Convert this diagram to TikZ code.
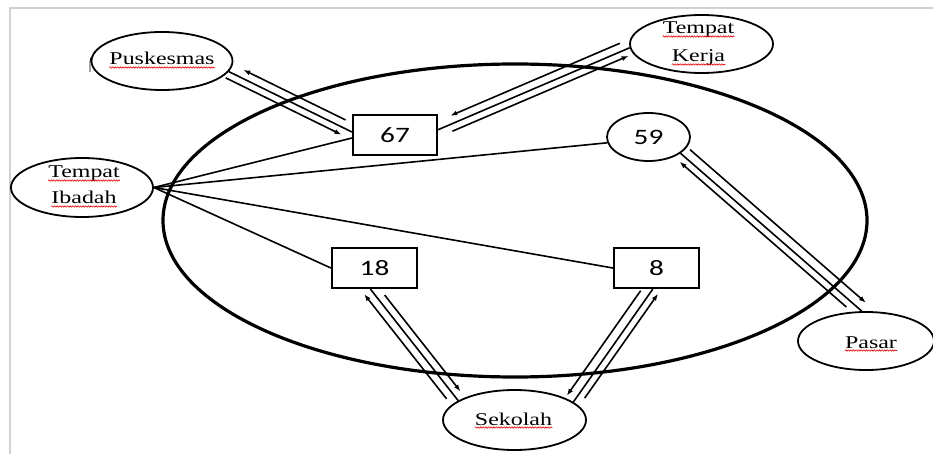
\documentclass[tikz,border=0pt]{standalone}
\usepackage{fontspec}
\setmainfont{Liberation Serif}
\newfontfamily\numfont{Carlito}
\usepackage{graphicx}
\usetikzlibrary{shapes.geometric,arrows.meta,calc,decorations.pathmorphing}
\newcommand\hstretch[1]{\scalebox{1.33}[1]{#1}}
% #1 A, #2 B, #3 offset, #4 angle, #5 from fraction, #6 to fraction
\newcommand\offarrow[6]{\draw[conn,arr] ($(#1)!#5!(#2)+(#1)!#3!#4:(#2)-(#1)$) -- ($(#1)!#6!(#2)+(#1)!#3!#4:(#2)-(#1)$);}
\tikzset{
 spot/.style={ellipse,draw,line width=1.8pt,inner sep=0pt,fill=white},
 numbox/.style={rectangle,draw,line width=2.2pt,inner sep=0pt,minimum width=84pt,minimum height=40pt,font=\numfont\fontsize{22}{26}\selectfont,fill=white},
 txt/.style={inner sep=0pt,anchor=base,font=\fontsize{18}{22}\selectfont},
 conn/.style={line width=1.6pt},
 arr/.style={-{Latex[length=7pt,width=5pt]}},
 squig/.style={draw=red!90!black,line width=0.6pt,decorate,decoration={snake,amplitude=0.7pt,segment length=2.6pt}},
 bigring/.style={line width=3.2pt},
 pageframe/.style={draw=black!18,line width=1.5pt}
}
\begin{document}
\begin{tikzpicture}[x=1pt,y=-1pt]
\useasboundingbox (0,0) rectangle (933,454);
\draw[pageframe] (10,454) -- (10,8) -- (933,8);
% big ring
\draw[bigring] (515,220.5) ellipse [x radius=352, y radius=156.5];
% places
\node[spot,minimum width=141pt,minimum height=58pt] (pusk) at (162,61) {};
\node[spot,minimum width=142pt,minimum height=59pt] (ib) at (82,187.5) {};
\node[spot,minimum width=143pt,minimum height=58pt] (kerja) at (701.5,44) {};
\node[spot,minimum width=136pt,minimum height=58pt] (pasar) at (866,341) {};
\node[spot,minimum width=143pt,minimum height=60pt] (sek) at (514.5,420) {};
% numbers
\node[numbox] (n67) at (395,135) {\hstretch{67}};
\node[spot,minimum width=83pt,minimum height=48pt,font=\numfont\fontsize{22}{26}\selectfont] (n59) at (648.5,137) {\hstretch{59}};
\node[numbox,minimum width=85pt] (n18) at (374.5,268) {\hstretch{18}};
\node[numbox,minimum width=85pt] (n8) at (656.5,268) {\hstretch{8}};
% labels
\node[txt] (tpusk) at ([yshift=-4pt]pusk.center) {\hstretch{Puskesmas}};
\node[txt] (tib1) at ([xshift=2pt,yshift=9.5pt]ib.center) {\hstretch{Tempat}};
\node[txt] (tib2) at ([xshift=2pt,yshift=-16.5pt]ib.center) {\hstretch{Ibadah}};
\node[txt] (tk1) at ([xshift=-3pt,yshift=10pt]kerja.center) {\hstretch{Tempat}};
\node[txt] (tk2) at ([xshift=-3pt,yshift=-18pt]kerja.center) {\hstretch{Kerja}};
\node[txt] (tpasar) at ([xshift=5pt,yshift=-7pt]pasar.center) {\hstretch{Pasar}};
\node[txt] (tsek) at ([xshift=-1pt,yshift=-5pt]sek.center) {\hstretch{Sekolah}};
\foreach \t in {tpusk,tib1,tib2,tk1,tk2,tpasar,tsek}
  \draw[squig] ([yshift=-2.5pt]\t.base west) -- ([yshift=-2.5pt]\t.base east);
% small bracket mark left of Puskesmas
\draw[line width=0.9pt] (93,56) .. controls (90.5,58) .. (90,63) -- (90,72);
% fan from Tempat Ibadah
\draw[conn] (ib.east) -- (n67.184);
\draw[conn] (ib.east) -- (n59.188);
\draw[conn] (ib.east) -- (n18.west);
\draw[conn] (ib.east) -- (n8.west);
% Puskesmas -- 67
\draw[conn] (pusk.-9) -- (n67.176);
\offarrow{pusk.-9}{n67.176}{8pt}{90}{0.92}{0.09}
\offarrow{pusk.-9}{n67.176}{7pt}{-90}{0.0}{0.94}
% 67 -- Tempat Kerja
\draw[conn] (n67.7) -- (kerja.183);
\offarrow{n67.7}{kerja.183}{8pt}{90}{0.965}{0.08}
\offarrow{n67.7}{kerja.183}{7pt}{-90}{0.06}{0.98}
% 59 -- Pasar
\draw[conn] (n59.-27) -- (pasar.98);
\offarrow{n59.-27}{pasar.98}{9pt}{90}{0.02}{0.99}
\offarrow{n59.-27}{pasar.98}{7pt}{-90}{0.94}{0.02}
% 18 -- Sekolah
\draw[conn] (n18.-101) -- (sek.161);
\offarrow{n18.-101}{sek.161}{8pt}{-90}{0.94}{0.0}
\offarrow{n18.-101}{sek.161}{7.5pt}{90}{0.095}{0.96}
% 8 -- Sekolah
\draw[conn] (n8.-100) -- (sek.17);
\offarrow{n8.-100}{sek.17}{9pt}{-90}{0.06}{0.99}
\offarrow{n8.-100}{sek.17}{7pt}{90}{0.93}{0.005}
\end{tikzpicture}
\end{document}
